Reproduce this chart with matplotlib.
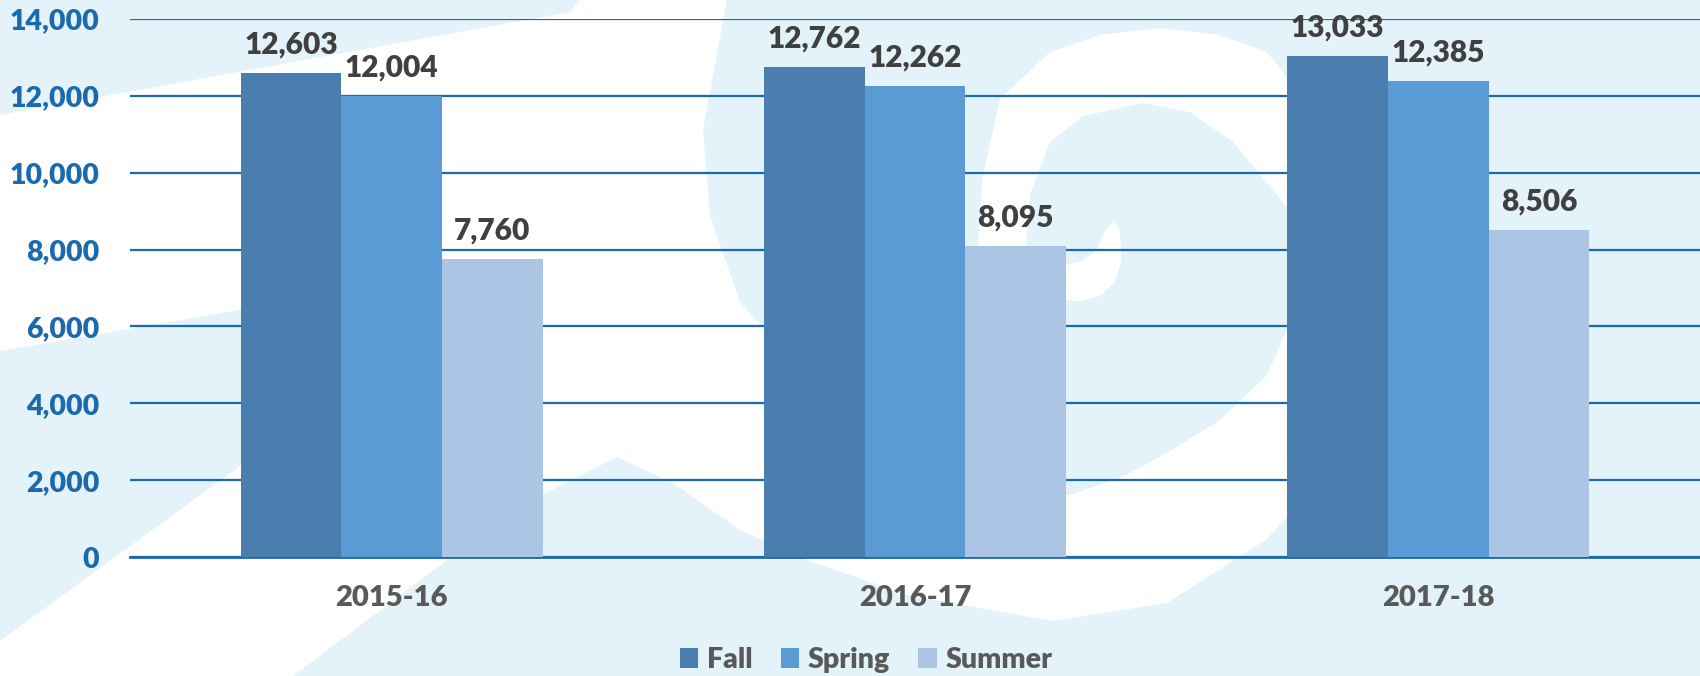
import matplotlib
matplotlib.use("Agg")
import matplotlib.pyplot as plt
from matplotlib.patches import Polygon
import numpy as np

plt.rcParams['font.family'] = ['Lato', 'DejaVu Sans']
plt.rcParams['font.weight'] = 'heavy'

years = ["2015-16", "2016-17", "2017-18"]
terms = ["Fall", "Spring", "Summer"]
fall = [12603, 12762, 13033]
spring = [12004, 12262, 12385]
summer = [7760, 8095, 8506]

colors = ["#4a7eaf", "#5b9bd5", "#adc5e4"]
light_bg = "#e4f2fa"
grid_blue = "#1a6aad"

fig = plt.figure(figsize=(17, 6.76), dpi=100)

# decorative background swirl (figure pixel coordinates)
bg = fig.add_axes([0, 0, 1, 1], zorder=-1)
bg.set_xlim(0, 1700)
bg.set_ylim(676, 0)
bg.axis("off")
bg.add_patch(Polygon([(0, 0), (1700, 0), (1700, 676), (0, 676)], color=light_bg, lw=0))
white_area = [(0, 115), (570, 12), (580, 0), (727, 0), (703, 129), (710, 216),
              (740, 302), (763, 328), (900, 450), (1000, 470),
              (1053, 621), (907, 595), (807, 560),
              (740, 530), (673, 483), (617, 457), (540, 496), (450, 558),
              (293, 676), (0, 676), (0, 641), (520, 262), (0, 351)]
bg.add_patch(Polygon(white_area, color="white", lw=0))
ring_outer = [(1160, 28), (1100, 35), (1050, 52), (1000, 99), (982, 180), (975, 300),
              (985, 420), (1000, 500), (1030, 590), (1053, 621), (1167, 603),
              (1267, 539), (1320, 480), (1350, 300), (1320, 120), (1267, 52), (1220, 35)]
bg.add_patch(Polygon(ring_outer, color="white", lw=0))
ring_inner = [(1143, 103), (1083, 116), (1050, 142), (1030, 194), (1025, 260),
              (1030, 350), (1045, 440), (1067, 496), (1120, 478), (1167, 453),
              (1220, 420), (1267, 375), (1300, 300), (1300, 210), (1287, 207),
              (1233, 142), (1190, 112)]
bg.add_patch(Polygon(ring_inner, color=light_bg, lw=0))
hook = [(1113, 222), (1119, 228), (1121, 245), (1121, 262), (1115, 282), (1100, 296),
        (1080, 301), (1060, 300), (1028, 296), (1028, 262), (1060, 266),
        (1080, 262), (1097, 250), (1104, 232)]
bg.add_patch(Polygon(hook, color="white", lw=0))

ax = fig.add_axes([130 / 1700, 1 - 557 / 676, 1 - 130 / 1700, (557 - 19) / 676])
ax.patch.set_alpha(0)

x = np.arange(len(years))
width = 0.1925
series = [fall, spring, summer]
for i, (name, vals) in enumerate(zip(terms, series)):
    rects = ax.bar(x + (i - 1) * width, vals, width, color=colors[i], label=name, zorder=3)
    for r, v in zip(rects, vals):
        ax.annotate(f"{v:,}", (r.get_x() + r.get_width() / 2, v),
                    xytext=(0, 14), textcoords="offset points",
                    ha="center", va="baseline", fontsize=21.5,
                    fontweight="heavy", color="#404040")

ax.set_xlim(-0.5, 2.5)
ax.set_ylim(0, 14000)
ax.set_yticks(np.arange(0, 14001, 2000))
ax.set_yticklabels([f"{t:,}" for t in range(0, 14001, 2000)])
ax.set_xticks(x, years)
ax.yaxis.grid(True, color=grid_blue, lw=1.6, zorder=0)
ax.set_axisbelow(True)
for s in ["top", "right", "left"]:
    ax.spines[s].set_visible(False)
ax.spines["bottom"].set_color(grid_blue)
ax.spines["bottom"].set_linewidth(2)
ax.tick_params(axis="y", length=0, pad=22, labelsize=20.5, labelcolor=grid_blue)
ax.tick_params(axis="x", length=0, pad=20, labelsize=21, labelcolor="#595959")
for lab in ax.get_xticklabels() + ax.get_yticklabels():
    lab.set_fontweight("heavy")

fig.legend(loc="center", bbox_to_anchor=(866 / 1700, 1 - 660 / 676), ncol=3,
           frameon=False, fontsize=20.5, handlelength=0.65, handleheight=0.65,
           handletextpad=0.3, columnspacing=1.0, labelcolor="#595959",
           prop={"weight": "heavy", "size": 20.5})

fig.savefig("out.png", dpi=100)
